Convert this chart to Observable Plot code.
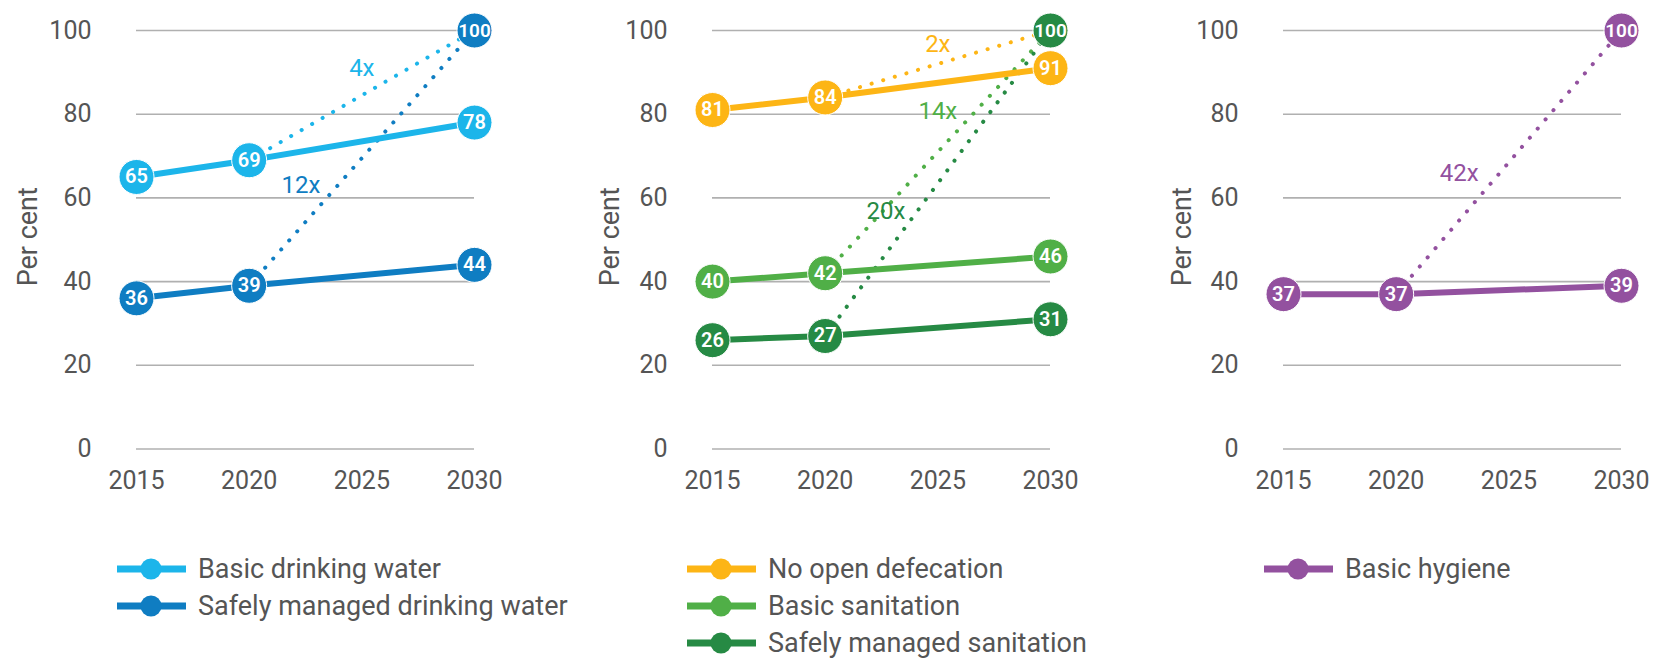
<!DOCTYPE html>
<html>
<head>
<meta charset="utf-8">
<script src="https://cdn.jsdelivr.net/npm/d3@7"></script>
<script src="https://cdn.jsdelivr.net/npm/@observablehq/plot@0.6"></script>
<style>
  html, body { margin: 0; padding: 0; background: #fff; }
  body { width: 1663px; height: 659px; position: relative; overflow: hidden; font-family: Roboto, "Noto Sans", sans-serif; }
  .panel { position: absolute; top: 0; }
  .legend { position: absolute; font-family: Roboto, sans-serif; font-size: 27px; color: #555; }
  .legend .item { display: flex; align-items: center; height: 37px; }
  .legend svg { margin-right: 12px; }
</style>
</head>
<body>
<script>
// ---- data ----
const years = [2015, 2020, 2030];
const targetYear = 2030;
const targetValue = 100;
const yTicks = [0, 20, 40, 60, 80, 100];
const xTicks = [2015, 2020, 2025, 2030];

const seriesNames = [
  "Basic drinking water", "Safely managed drinking water",
  "No open defecation", "Basic sanitation", "Safely managed sanitation",
  "Basic hygiene"
];
const seriesPanel = [0, 0, 1, 1, 1, 2];
const basicDrinkingWater = [65, 69, 78];
const safelyManagedDrinkingWater = [36, 39, 44];
const noOpenDefecation = [81, 84, 91];
const basicSanitation = [40, 42, 46];
const safelyManagedSanitation = [26, 27, 31];
const basicHygiene = [37, 37, 39];
const seriesValues = [basicDrinkingWater, safelyManagedDrinkingWater, noOpenDefecation, basicSanitation, safelyManagedSanitation, basicHygiene];
const seriesColors = ["#1cb5ea", "#0f7dc2", "#fdb515", "#50af47", "#268a44", "#93519f"];

// acceleration labels: text, x (year), y (per cent)
const accelText = ["4x", "12x", "2x", "14x", "20x", "42x"];
const accelX = [2025, 2022.3, 2025, 2025, 2022.7, 2022.8];
const accelY = [91, 63, 96.8, 80.6, 56.8, 65.8];

const panelLefts = [0, 576, 1147];
const panelLabelX = [28, 34, 35];

// ---- build panels ----
const W = 514, H = 510, ML = 136, MR = 40, MT = 30, MB = 61.5;

for (let p = 0; p < 3; p++) {
  const idx = seriesNames.map((n, i) => i).filter(i => seriesPanel[i] === p);
  const pts = [], dots = [], labels = [];
  idx.forEach((i) => {
    years.forEach((yr, k) => pts.push({s: seriesNames[i], c: seriesColors[i], x: yr, y: seriesValues[i][k]}));
    dots.push({s: seriesNames[i], c: seriesColors[i], x: 2020, y: seriesValues[i][1]});
    dots.push({s: seriesNames[i], c: seriesColors[i], x: targetYear, y: targetValue});
    labels.push({t: accelText[i], x: accelX[i], y: accelY[i], c: seriesColors[i]});
  });
  const targets = idx.map(i => ({x: targetYear, y: targetValue, c: seriesColors[i]}));
  const tgt = p === 0 ? [targets[1]] : p === 1 ? [targets[2]] : [targets[0]];

  const chart = Plot.plot({
    width: W, height: H,
    marginLeft: ML, marginRight: MR, marginTop: MT, marginBottom: MB,
    style: {fontFamily: "Roboto, sans-serif", color: "#555", background: "transparent", overflow: "visible"},
    x: {domain: [2015, 2030], ticks: xTicks, tickFormat: d => String(d), tickSize: 0, tickPadding: 22, label: null},
    y: {domain: [0, 100], ticks: yTicks, tickSize: 0, tickPadding: 45, label: null},
    marks: [
      Plot.ruleY(yTicks, {stroke: "#b0b0b0", strokeWidth: 1.6}),
      Plot.axisX({ticks: xTicks, tickFormat: d => String(d), tickSize: 0, tickPadding: 22, fontSize: 25, fill: "#555", label: null}),
      Plot.axisY({ticks: yTicks, tickSize: 0, tickPadding: 45, fontSize: 25, fill: "#555", label: null}),
      Plot.text(["Per cent"], {frameAnchor: "left", dx: -(ML - panelLabelX[p]), dy: -3, rotate: -90, fontSize: "27px", lineAnchor: "middle", textAnchor: "middle", fill: "#555"}),
      Plot.line(dots, {x: "x", y: "y", z: "s", stroke: "c", strokeWidth: 4, strokeDasharray: "0.1 12", strokeLinecap: "round"}),
      Plot.line(pts, {x: "x", y: "y", z: "s", stroke: "c", strokeWidth: 6}),
      Plot.dot(tgt, {x: "x", y: "y", r: 17.5, fill: "c", stroke: "white", strokeWidth: 1}),
      Plot.text(tgt, {x: "x", y: "y", text: d => "100", fill: "white", fontSize: 19, fontWeight: 600, letterSpacing: -1}),
      Plot.dot(pts, {x: "x", y: "y", r: 17.5, fill: "c", stroke: "white", strokeWidth: 1}),
      Plot.text(pts, {x: "x", y: "y", text: d => String(d.y), fill: "white", fontSize: 20, fontWeight: 600}),
      Plot.text(labels, {x: "x", y: "y", text: "t", fill: "c", fontSize: 24})
    ]
  });
  chart.classList.add("panel");
  chart.style.left = panelLefts[p] + "px";
  chart.style.position = "absolute";
  document.body.appendChild(chart);
}

// ---- legend ----
const legendLefts = [117, 687, 1264];
const legendTop = 550;
for (let p = 0; p < 3; p++) {
  const div = document.createElement("div");
  div.className = "legend";
  div.style.left = legendLefts[p] + "px";
  div.style.top = legendTop + "px";
  seriesNames.forEach((n, i) => {
    if (seriesPanel[i] !== p) return;
    const item = document.createElement("div");
    item.className = "item";
    const c = seriesColors[i];
    item.innerHTML = `<svg width="69" height="24"><line x1="0" y1="12" x2="69" y2="12" stroke="${c}" stroke-width="7"/><circle cx="34" cy="12" r="10.5" fill="${c}"/></svg><span>${n}</span>`;
    div.appendChild(item);
  });
  document.body.appendChild(div);
}
</script>
</body>
</html>
